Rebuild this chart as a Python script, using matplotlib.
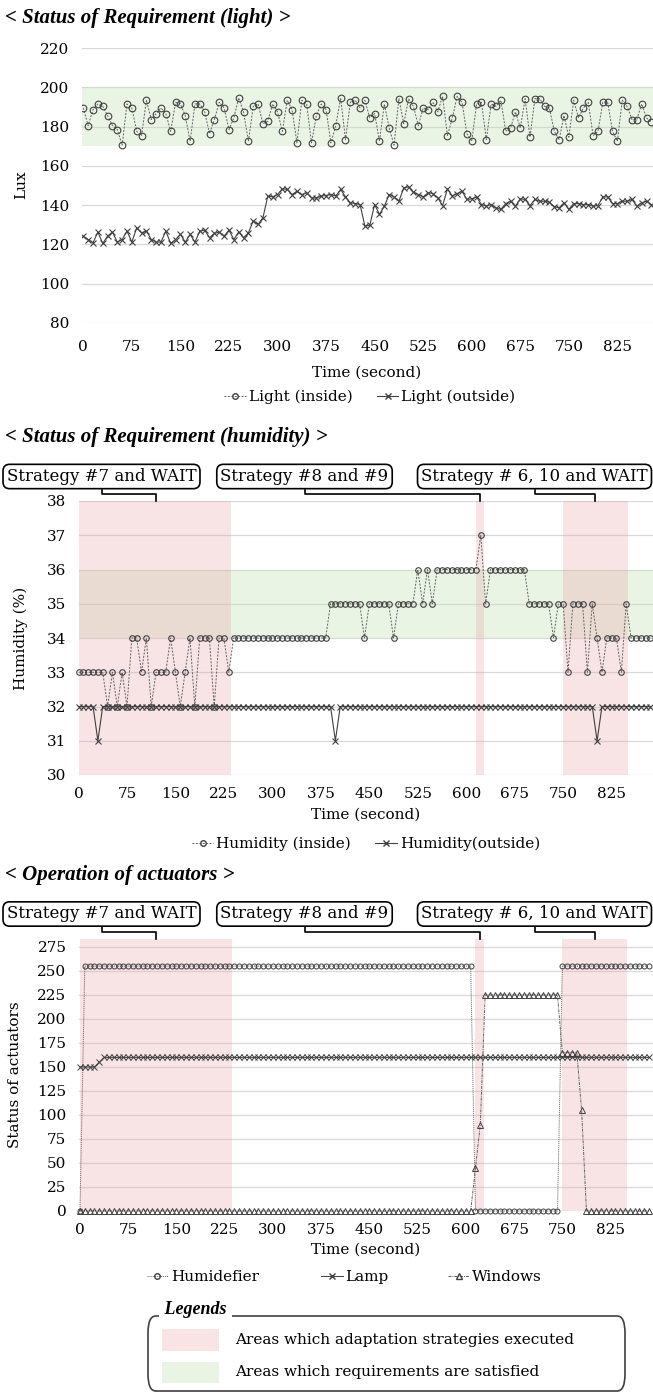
import numpy as np
import matplotlib.pyplot as plt
from matplotlib.lines import Line2D
from matplotlib.patches import FancyBboxPatch, Rectangle

plt.rcParams['font.family'] = ['DejaVu Serif']

W, H = 653, 1395

# ---- data ----
light_inside = [
    189.5, 180.5, 188.6, 191.5, 190.3, 185.6, 180.5, 178.5, 170.5, 191.5,
    189.5, 177.6, 175.4, 193.4, 183.6, 186.6, 189.5, 186.6, 177.6, 192.4,
    191.5, 185.6, 172.5, 191.5, 191.5, 187.5, 176.4, 183.6, 192.4, 189.5,
    178.5, 184.4, 194.6, 187.5, 172.5, 190.3, 191.5, 181.5, 182.7, 191.5,
    187.5, 177.6, 193.4, 188.6, 171.7, 193.4, 191.5, 171.7, 185.6, 191.5,
    188.6, 171.7, 180.5, 194.6, 173.4, 192.4, 193.4, 189.5, 193.4, 184.4,
    186.6, 172.5, 191.5, 179.3, 170.5, 194.2, 181.5, 194.2, 190.3, 180.5,
    189.5, 188.6, 192.4, 187.5, 195.4, 175.4, 184.4, 195.4, 192.4, 176.4,
    172.5, 191.5, 192.4, 173.4, 191.5, 190.3, 193.4, 177.6, 179.3, 187.5,
    179.3, 194.2, 174.6, 194.2, 194.2, 190.3, 189.5, 177.6, 173.4, 185.6,
    174.6, 193.4, 184.4, 189.5, 192.4, 175.4, 177.6, 192.4, 192.4, 177.6,
    172.5, 193.4, 190.3, 183.6, 183.6, 191.5, 184.4, 182.4]
light_outside = [
    124.2, 122.5, 120.8, 126.3, 120.5, 124.2, 126.3, 121.2, 122.5, 126.8,
    121.2, 128.5, 125.9, 126.8, 122.5, 121.2, 121.2, 126.8, 120.5, 122.5,
    125.1, 121.2, 125.1, 121.2, 126.8, 127.3, 123.4, 125.6, 126.3, 124.2,
    127.3, 122.5, 126.3, 123.4, 125.9, 131.9, 130.2, 133.6, 144.6, 144.2,
    145.4, 148.3, 148.0, 145.4, 147.1, 145.4, 146.3, 143.7, 143.7, 144.6,
    144.9, 145.4, 144.6, 148.0, 144.2, 141.2, 140.8, 140.3, 129.3, 129.7,
    140.3, 135.3, 139.5, 145.4, 144.2, 142.0, 148.8, 149.3, 146.6, 145.4,
    144.2, 146.3, 145.9, 143.7, 139.8, 148.3, 144.6, 145.9, 147.1, 142.9,
    143.2, 144.2, 140.3, 139.5, 140.3, 138.6, 137.8, 140.8, 142.0, 139.5,
    143.2, 142.9, 139.8, 142.9, 142.0, 142.0, 141.5, 139.2, 138.6, 141.2,
    137.8, 140.8, 140.8, 140.3, 140.3, 139.5, 139.8, 144.2, 144.2, 140.8,
    140.8, 142.0, 142.0, 142.9, 139.5, 141.2, 142.0, 140.3]

hum_inside = [
    33, 33, 33, 33, 33, 33, 32, 33, 32, 33,
    32, 34, 34, 33, 34, 32, 33, 33, 33, 34,
    33, 32, 33, 34, 32, 34, 34, 34, 32, 34,
    34, 33, 34, 34, 34, 34, 34, 34, 34, 34,
    34, 34, 34, 34, 34, 34, 34, 34, 34, 34,
    34, 34, 35, 35, 35, 35, 35, 35, 35, 34,
    35, 35, 35, 35, 35, 34, 35, 35, 35, 35,
    36, 35, 36, 35, 36, 36, 36, 36, 36, 36,
    36, 36, 36, 37, 35, 36, 36, 36, 36, 36,
    36, 36, 36, 35, 35, 35, 35, 35, 34, 35,
    35, 33, 35, 35, 35, 33, 35, 34, 33, 34,
    34, 34, 33, 35, 34, 34, 34, 34, 34]
hum_outside = [
    32, 32, 32, 32, 31, 32, 32, 32, 32, 32,
    32, 32, 32, 32, 32, 32, 32, 32, 32, 32,
    32, 32, 32, 32, 32, 32, 32, 32, 32, 32,
    32, 32, 32, 32, 32, 32, 32, 32, 32, 32,
    32, 32, 32, 32, 32, 32, 32, 32, 32, 32,
    32, 32, 32, 31, 32, 32, 32, 32, 32, 32,
    32, 32, 32, 32, 32, 32, 32, 32, 32, 32,
    32, 32, 32, 32, 32, 32, 32, 32, 32, 32,
    32, 32, 32, 32, 32, 32, 32, 32, 32, 32,
    32, 32, 32, 32, 32, 32, 32, 32, 32, 32,
    32, 32, 32, 32, 32, 32, 32, 31, 32, 32,
    32, 32, 32, 32, 32, 32, 32, 32, 32]

humidifier = [
    0, 255, 255, 255, 255, 255, 255, 255, 255, 255,
    255, 255, 255, 255, 255, 255, 255, 255, 255, 255,
    255, 255, 255, 255, 255, 255, 255, 255, 255, 255,
    255, 255, 255, 255, 255, 255, 255, 255, 255, 255,
    255, 255, 255, 255, 255, 255, 255, 255, 255, 255,
    255, 255, 255, 255, 255, 255, 255, 255, 255, 255,
    255, 255, 255, 255, 255, 255, 255, 255, 255, 255,
    255, 255, 255, 255, 255, 255, 255, 255, 255, 255,
    255, 255, 0, 0, 0, 0, 0, 0, 0, 0,
    0, 0, 0, 0, 0, 0, 0, 0, 0, 0,
    255, 255, 255, 255, 255, 255, 255, 255, 255, 255,
    255, 255, 255, 255, 255, 255, 255, 255, 255]
lamp = [
    150, 150, 150, 150, 155, 160, 160, 160, 160, 160,
    160, 160, 160, 160, 160, 160, 160, 160, 160, 160,
    160, 160, 160, 160, 160, 160, 160, 160, 160, 160,
    160, 160, 160, 160, 160, 160, 160, 160, 160, 160,
    160, 160, 160, 160, 160, 160, 160, 160, 160, 160,
    160, 160, 160, 160, 160, 160, 160, 160, 160, 160,
    160, 160, 160, 160, 160, 160, 160, 160, 160, 160,
    160, 160, 160, 160, 160, 160, 160, 160, 160, 160,
    160, 160, 160, 160, 160, 160, 160, 160, 160, 160,
    160, 160, 160, 160, 160, 160, 160, 160, 160, 160,
    160, 160, 160, 160, 160, 160, 160, 160, 160, 160,
    160, 160, 160, 160, 160, 160, 160, 160, 160]
windows = [
    0, 0, 0, 0, 0, 0, 0, 0, 0, 0,
    0, 0, 0, 0, 0, 0, 0, 0, 0, 0,
    0, 0, 0, 0, 0, 0, 0, 0, 0, 0,
    0, 0, 0, 0, 0, 0, 0, 0, 0, 0,
    0, 0, 0, 0, 0, 0, 0, 0, 0, 0,
    0, 0, 0, 0, 0, 0, 0, 0, 0, 0,
    0, 0, 0, 0, 0, 0, 0, 0, 0, 0,
    0, 0, 0, 0, 0, 0, 0, 0, 0, 0,
    0, 0, 45, 90, 225, 225, 225, 225, 225, 225,
    225, 225, 225, 225, 225, 225, 225, 225, 225, 225,
    165, 165, 165, 165, 105, 0, 0, 0, 0, 0,
    0, 0, 0, 0, 0, 0, 0, 0, 0]

t_light = np.arange(len(light_inside)) * 7.5
t_hum = np.arange(len(hum_inside)) * 7.5
t_act = np.arange(len(humidifier)) * 7.5

x_ticks = np.arange(0, 826, 75)
strategy_spans = [(0, 236), (615, 628), (750, 851)]
strategy_labels = ["Strategy #7 and WAIT", "Strategy #8 and #9", "Strategy # 6, 10 and WAIT"]

PINK = '#e9a3ab'
GREEN = '#c5e0b4'
LINE = '#404040'

fig = plt.figure(figsize=(W / 100, H / 100), dpi=100)


def fx(x):
    return x / W


def fy(y):
    return 1 - y / H


def add_ax(left, top, right, bottom):
    return fig.add_axes([left / W, 1 - bottom / H, (right - left) / W, (bottom - top) / H])


def style(ax, yticks, pad):
    ax.set_xticks(x_ticks)
    ax.set_yticks(yticks)
    ax.grid(axis='y', color='#d9d9d9', lw=0.9)
    ax.set_axisbelow(True)
    for s in ax.spines.values():
        s.set_visible(False)
    ax.tick_params(length=0, labelsize=11)
    ax.tick_params(axis='x', pad=pad)
    ax.tick_params(axis='y', pad=9)


def title(y, text):
    fig.text(fx(5), fy(y), text, fontfamily='Liberation Serif', fontsize=15,
             fontweight='bold', fontstyle='italic', va='center', ha='left')


def strategy_boxes(y_box, y_elbow, y_axis, span_px):
    centers = [101.5, 304.5, 534.5]
    for cx, lab, tx in zip(centers, strategy_labels, span_px):
        fig.text(fx(cx), fy(y_box), lab, ha='center', va='center', fontsize=12,
                 bbox=dict(boxstyle='round,pad=0.22,rounding_size=0.4', fc='white',
                           ec='black', lw=1.2))
        fig.add_artist(Line2D([fx(cx), fx(cx), fx(tx), fx(tx)],
                              [fy(y_box + 13), fy(y_elbow), fy(y_elbow), fy(y_axis)],
                              color='black', lw=1.2))


def legend_at(handles, x, y, ncol, colspace=1.6):
    fig.legend(handles=handles, loc='center', bbox_to_anchor=(fx(x), fy(y)), ncol=ncol,
               frameon=False, fontsize=11, handlelength=1.4, handletextpad=0.2,
               columnspacing=colspace, borderaxespad=0)


# ---- light ----
title(18, "< Status of Requirement (light) >")
ax1 = add_ax(82, 48, 653, 323)
ax1.axhspan(170, 200, color=GREEN, alpha=0.35, lw=0)
ax1.plot(t_light, light_inside, ls=(0, (2, 1.5)), lw=0.7, color='#606060', marker='o',
         ms=4.8, mfc='none', mec=LINE, mew=0.8)
ax1.plot(t_light, light_outside, ls='-', lw=0.8, color=LINE, marker='x', ms=5, mew=0.8)
ax1.set_xlim(-2, 880)
ax1.set_ylim(80, 220)
style(ax1, np.arange(80, 221, 20), 12)
fig.text(fx(21), fy(185), "Lux", rotation=90, ha='center', va='center', fontsize=11)
fig.text(fx(367), fy(373), "Time (second)", ha='center', va='center', fontsize=11)
legend_at([Line2D([], [], ls=(0, (2, 1.5)), lw=0.7, color='#606060', marker='o', ms=4,
                  mfc='none', mec=LINE, label='Light (inside)'),
           Line2D([], [], ls='-', lw=0.8, color=LINE, marker='x', ms=5,
                  label='Light (outside)')], 370, 397, 2)

# ---- humidity ----
title(437, "< Status of Requirement (humidity) >")
ax2 = add_ax(78.5, 501, 653, 775)
ax2.axhspan(34, 36, color=GREEN, alpha=0.35, lw=0)
for a, b in strategy_spans:
    ax2.axvspan(a, b, color=PINK, alpha=0.3, lw=0)
ax2.plot(t_hum, hum_inside, ls=(0, (2, 1.5)), lw=0.7, color='#606060', marker='o',
         ms=4, mfc='none', mec=LINE, mew=0.8, clip_on=False)
ax2.plot(t_hum, hum_outside, ls='-', lw=0.8, color=LINE, marker='x', ms=5, mew=0.8,
         clip_on=False)
ax2.set_xlim(0, 889)
ax2.set_ylim(30, 38)
style(ax2, np.arange(30, 39, 1), 9)
fig.text(fx(21), fy(638), "Humidity (%)", rotation=90, ha='center', va='center', fontsize=11)
fig.text(fx(366), fy(815), "Time (second)", ha='center', va='center', fontsize=11)
legend_at([Line2D([], [], ls=(0, (2, 1.5)), lw=0.7, color='#606060', marker='o', ms=4,
                  mfc='none', mec=LINE, label='Humidity (inside)'),
           Line2D([], [], ls='-', lw=0.8, color=LINE, marker='x', ms=5,
                  label='Humidity(outside)')], 366, 844, 2)
strategy_boxes(476.5, 494, 501, [155.5, 480, 595])

# ---- actuators ----
title(875, "< Operation of actuators >")
ax3 = add_ax(79, 939, 653, 1211)
for a, b in strategy_spans:
    ax3.axvspan(a, b, color=PINK, alpha=0.3, lw=0)
ax3.plot(t_act, humidifier, ls=(0, (1, 1)), lw=0.7, color='#606060', marker='o', ms=3.6,
         mfc='none', mec=LINE, mew=0.7, clip_on=False)
ax3.plot(t_act, lamp, ls='-', lw=0.7, color=LINE, marker='x', ms=4.5, mew=0.7,
         clip_on=False)
ax3.plot(t_act, windows, ls=(0, (3, 1, 1, 1)), lw=0.7, color='#606060', marker='^',
         ms=4, mfc='none', mec=LINE, mew=0.7, clip_on=False)
ax3.set_xlim(-1.5, 891)
ax3.set_ylim(0, 283.3)
style(ax3, np.arange(0, 276, 25), 9)
fig.text(fx(15), fy(1075), "Status of actuators", rotation=90, ha='center', va='center',
         fontsize=11)
fig.text(fx(366), fy(1250), "Time (second)", ha='center', va='center', fontsize=11)
strategy_boxes(914, 932, 939, [155.5, 480, 595])

entries = [
    (Line2D([], [], ls=(0, (1, 1)), lw=0.7, color='#606060', marker='o', ms=4, mfc='none',
            mec=LINE, label='Humidefier'), 203),
    (Line2D([], [], ls='-', lw=0.7, color=LINE, marker='x', ms=5, label='Lamp'), 355),
    (Line2D([], [], ls=(0, (3, 1, 1, 1)), lw=0.7, color='#606060', marker='^', ms=4,
            mfc='none', mec=LINE, label='Windows'), 495),
]
for h, x in entries:
    legend_at([h], x, 1277, 1)

# ---- legend box ----
fig.add_artist(FancyBboxPatch((fx(148), fy(1391)), fx(477), 75 / H,
                              boxstyle='round,pad=0,rounding_size=0.012',
                              transform=fig.transFigure, fc='none', ec='#404040', lw=1.2))
fig.text(fx(160), fy(1309), " Legends ", fontfamily='Liberation Serif', fontsize=13,
         fontweight='bold', fontstyle='italic', va='center', ha='left',
         bbox=dict(fc='white', ec='none', pad=1))
fig.add_artist(Rectangle((fx(162), fy(1351)), fx(57), 22 / H, transform=fig.transFigure,
                         fc=PINK, alpha=0.3, lw=0))
fig.add_artist(Rectangle((fx(162), fy(1383)), fx(57), 21 / H, transform=fig.transFigure,
                         fc=GREEN, alpha=0.35, lw=0))
fig.text(fx(235), fy(1340), "Areas which adaptation strategies executed", fontsize=11,
         va='center', ha='left')
fig.text(fx(235), fy(1372), "Areas which requirements are satisfied", fontsize=11,
         va='center', ha='left')

fig.savefig("out.png", dpi=100)
